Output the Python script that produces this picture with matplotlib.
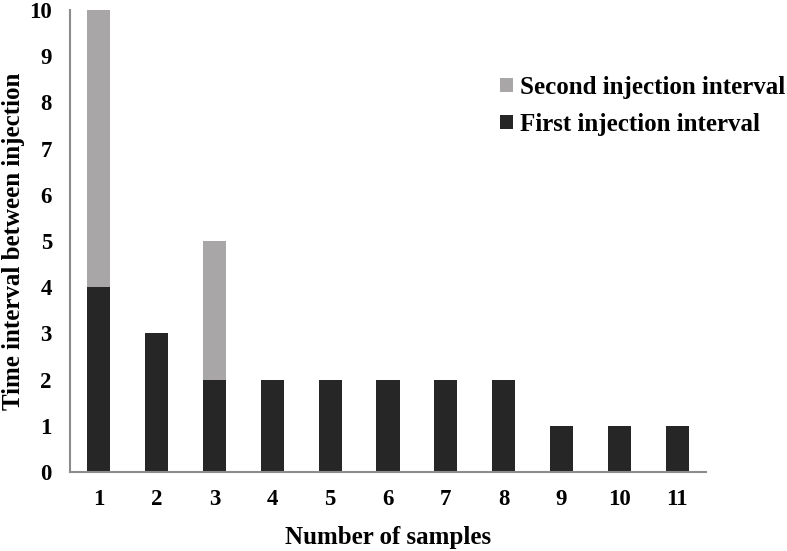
import matplotlib
matplotlib.use("Agg")
import matplotlib.pyplot as plt
import numpy as np

samples = ["1", "2", "3", "4", "5", "6", "7", "8", "9", "10", "11"]
first_interval = [4, 3, 2, 2, 2, 2, 2, 2, 1, 1, 1]
second_interval = [6, 0, 3, 0, 0, 0, 0, 0, 0, 0, 0]

plt.rcParams['font.family'] = ['Liberation Serif', 'DejaVu Serif']
plt.rcParams['font.weight'] = 'bold'

fig = plt.figure(figsize=(7.87, 5.51), dpi=100)
ax = fig.add_axes([70/787, 1-472/551, (706-70)/787, (472-10)/551])

x = np.arange(len(samples))
w = 0.4
b1 = ax.bar(x, first_interval, w, color='#262626', label='First injection interval')
b2 = ax.bar(x, second_interval, w, bottom=first_interval, color='#a8a6a6', label='Second injection interval')

ax.set_xlim(-0.5, len(samples) - 0.5)
ax.set_ylim(0, 10)
ax.set_yticks(range(0, 11))
ax.set_xticks(x)
ax.set_xticklabels(samples)
ax.tick_params(length=0, labelsize=16.5)
ax.tick_params(axis='x', pad=12)
ax.tick_params(axis='y', pad=13)
for s in ['top', 'right']:
    ax.spines[s].set_visible(False)
for s in ['left', 'bottom']:
    ax.spines[s].set_color('#8c8c8c')
    ax.spines[s].set_linewidth(1.5)

ax.set_xlabel('Number of samples', fontsize=18, fontweight='bold', labelpad=12)
ax.set_ylabel('Time interval between injection', fontsize=18, fontweight='bold', labelpad=3)

leg = fig.legend([b2, b1], ['Second injection interval', 'First injection interval'],
                 loc='upper left', bbox_to_anchor=(500/787, 1-76/551), frameon=False,
                 fontsize=18, handlelength=0.5, handleheight=0.5, handletextpad=0.3,
                 labelspacing=0.55, borderpad=0, borderaxespad=0)

fig.savefig('out.png', dpi=100)
